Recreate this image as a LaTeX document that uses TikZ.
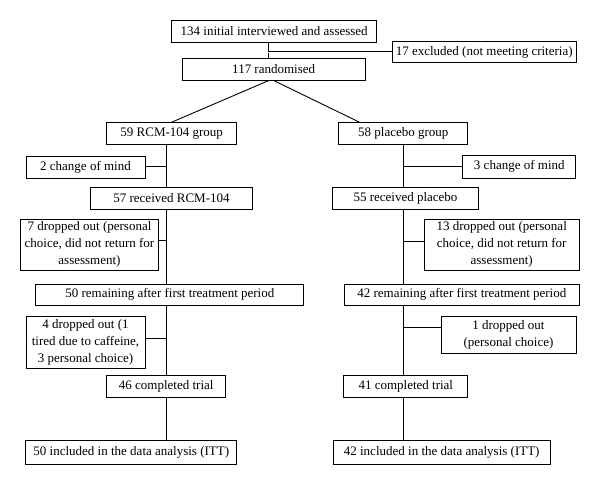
\documentclass[tikz,border=0pt]{standalone}
\usepackage{fontspec}
\setmainfont{Liberation Serif}
\usepackage{tikz}
\usepackage{xcolor}

\begin{document}
\begin{tikzpicture}[x=1pt, y=-1pt,
                    box/.style={rectangle, draw, line width=1pt, inner sep=0pt, align=center, font=\fontsize{13}{17}\selectfont},
                    link/.style={line width=0.9pt}]
                    \useasboundingbox (0,0) rectangle (600,485);

                    \node (init) [box, minimum width=205pt, minimum height=21.6pt] at (274.2,31.5) {134 initial interviewed and assessed};
                    \node (excl) [box, minimum width=183.7pt, minimum height=21pt] at (484.2,52.2) {17 excluded (not meeting criteria)};
                    \node (rand) [box, minimum width=182.7pt, minimum height=21.7pt] at (273.7,69.2) {117 randomised};

                    \node (grpA) [box, minimum width=130pt, minimum height=21.6pt] at (171.7,133.5) {59 RCM-104 group};
                    \node (chgA) [box, minimum width=119pt, minimum height=22.3pt] at (85.5,167.2) {2 change of mind};
                    \node (recA) [box, minimum width=161.6pt, minimum height=21.6pt] at (171.5,198.5) {57 received RCM-104};
                    \node (dropA1) [box, minimum width=137.6pt, minimum height=50.7pt] at (89.5,244.7) {7 dropped out (personal\\choice, did not return for\\assessment)};
                    \node (remA) [box, minimum width=268.3pt, minimum height=21.5pt] at (169.8,294.8) {50 remaining after first treatment period};
                    \node (dropA2) [box, minimum width=119pt, minimum height=51.6pt] at (85.5,342.5) {4 dropped out (1\\tired due to caffeine,\\3 personal choice)};
                    \node (compA) [box, minimum width=119pt, minimum height=21.7pt] at (166.2,386.8) {46 completed trial};
                    \node (ittA) [box, minimum width=210.7pt, minimum height=24.3pt] at (131.3,452.2) {50 included in the data analysis (ITT)};

                    \node (grpB) [box, minimum width=128.7pt, minimum height=21.6pt] at (403.3,133.5) {58 placebo group};
                    \node (chgB) [box, minimum width=113.3pt, minimum height=23pt] at (519.3,166.7) {3 change of mind};
                    \node (recB) [box, minimum width=145.6pt, minimum height=21.6pt] at (405.5,198.5) {55 received placebo};
                    \node (dropB1) [box, minimum width=155.3pt, minimum height=50.7pt] at (501.7,244.7) {13 dropped out (personal\\choice, did not return for\\assessment)};
                    \node (remB) [box, minimum width=235pt, minimum height=21.5pt] at (461.8,294.8) {42 remaining after first treatment period};
                    \node (dropB2) [box, minimum width=135pt, minimum height=36.6pt] at (508.5,335) {1 dropped out\\(personal choice)};
                    \node (compB) [box, minimum width=123.7pt, minimum height=21.7pt] at (405.8,386.8) {41 completed trial};
                    \node (ittB) [box, minimum width=216.7pt, minimum height=24.3pt] at (441.7,452.2) {42 included in the data analysis (ITT)};

                    \coordinate (trunk) at (268.3,0);
                    \coordinate (trunkA) at (166,0);
                    \coordinate (trunkB) at (403.3,0);

                    \draw[link] (init.south -| trunk) -- (rand.north -| trunk);
                    \draw[line width=0.6pt, double, double distance=0.9pt] (excl.west) -- (excl.west -| trunk);
                    \draw[link] ([xshift=-5pt]rand.south) -- (grpA.north);
                    \draw[link] (rand.south) -- ([xshift=21pt]grpB.north west);

                    \draw[link] (grpA.south -| trunkA) -- (recA.north -| trunkA);
                    \draw[link] (recA.south -| trunkA) -- (remA.north -| trunkA);
                    \draw[link] (remA.south -| trunkA) -- (compA.north -| trunkA);
                    \draw[link] (compA.south -| trunkA) -- (ittA.north -| trunkA);

                    \draw[link] (grpB.south -| trunkB) -- (recB.north -| trunkB);
                    \draw[link] (recB.south -| trunkB) -- (remB.north -| trunkB);
                    \draw[link] (remB.south -| trunkB) -- (compB.north -| trunkB);
                    \draw[link] (compB.south -| trunkB) -- (ittB.north -| trunkB);

                    \draw[link] ([yshift=1pt]chgA.east) -- ([yshift=1pt]chgA.east -| trunkA);
                    \draw[link] ([yshift=4.7pt]dropA1.east) -- ([yshift=4.7pt]dropA1.east -| trunkA);
                    \draw[link] ([yshift=4.2pt]dropA2.east) -- ([yshift=4.2pt]dropA2.east -| trunkA);

                    \draw[link] (chgB.west) -- (chgB.west -| trunkB);
                    \draw[link] ([yshift=3.7pt]dropB1.west) -- ([yshift=3.7pt]dropB1.west -| trunkB);
                    \draw[link] ([yshift=7.7pt]dropB2.west) -- ([yshift=7.7pt]dropB2.west -| trunkB);

                \end{tikzpicture}
\end{document}
